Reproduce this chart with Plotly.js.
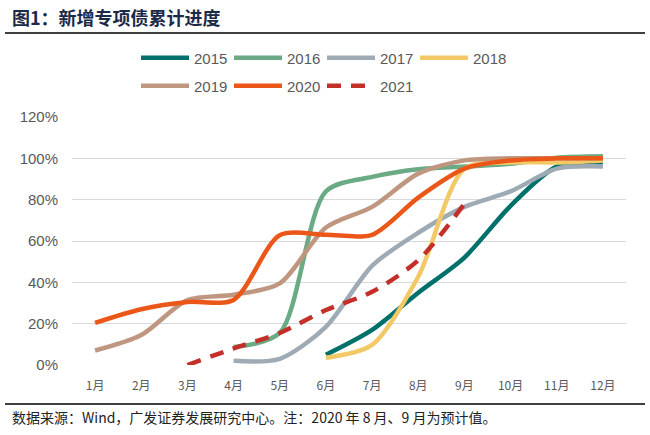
<!DOCTYPE html>
<html><head><meta charset="utf-8">
<script src="https://cdn.plot.ly/plotly-3.0.1.min.js"></script>
<style>html,body{margin:0;padding:0;background:#fff}#c{width:650px;height:435px}</style>
</head><body><div id="c"></div>
<script>
const months = ['1月','2月','3月','4月','5月','6月','7月','8月','9月','10月','11月','12月'];
const yTicks = [0,20,40,60,80,100,120];
const yTickText = ['0%','20%','40%','60%','80%','100%','120%'];
const s2015 = [null,null,null,null,null,5,17,35,52,77,96,98];
const s2016 = [null,null,null,8.7,15.5,84,91,94.7,96,97.4,100.3,101];
const s2017 = [null,null,null,2,3,18.5,48,64,76.5,84,95,96];
const s2018 = [null,null,null,null,null,3.5,9.7,42.7,95,98,98,99];
const s2019 = [7,14.5,31.4,34,39.5,66.5,76.5,92.6,99,100,100,100];
const s2020 = [20.4,27,30.5,31.5,62.8,63,63,81,95,99,100,100];
const s2021 = [null,null,0,8,15.5,26.6,35.4,50.7,78,null,null,null];
const names = ['2015','2016','2017','2018','2019','2020','2021'];
const series = [s2015,s2016,s2017,s2018,s2019,s2020,s2021];
const colors = ['#00706b','#6aaa84','#9eaab4','#f3c968','#bf9781','#ea5719','#c3302a'];

const traces = series.map((s,i)=>({
  x: months, y: s, name: names[i], type:'scatter', mode:'lines',
  line:{color:colors[i], width:4.5, shape:'spline', smoothing:0.8, dash: i===6 ? '14px,10px' : 'solid'},
  legend: i<4 ? 'legend' : 'legend2',
  hoverinfo:'skip'
}));

const legendBase = {orientation:'h', xanchor:'left', yanchor:'middle', font:{family:'Liberation Sans, Arial, sans-serif', size:15, color:'#595959'}, itemwidth:48, entrywidth:30, entrywidthmode:'pixels', bgcolor:'rgba(0,0,0,0)', tracegroupgap:0, itemclick:false};

const layout = {
  width:650, height:435,
  margin:{l:72, r:24, t:117, b:70},
  paper_bgcolor:'#fff', plot_bgcolor:'#fff',
  showlegend:true,
  legend: Object.assign({}, legendBase, {x:(136-72)/554, y:1+ (117-58)/248}),
  legend2: Object.assign({}, legendBase, {x:(136-72)/554, y:1+ (117-86)/248}),
  xaxis:{type:'category', range:[-0.5,11.5], showgrid:false, zeroline:false, showline:false, ticks:'outside', ticklen:10, tickcolor:'rgba(0,0,0,0)',
    tickfont:{family:'Noto Sans CJK SC, sans-serif', size:12, color:'#595959'}, fixedrange:true},
  yaxis:{range:[0,120], tickvals:yTicks, ticktext:yTickText, showgrid:true, gridcolor:'#d9d9d9', gridwidth:1,
    zeroline:false, showline:false, ticks:'outside', ticklen:10, tickcolor:'rgba(0,0,0,0)',
    tickfont:{family:'Liberation Sans, Arial, sans-serif', size:15, color:'#595959'}, fixedrange:true},
  annotations:[
    {xref:'paper', yref:'paper', x:(10-72)/554, y:1+(117-17)/248, xanchor:'left', yanchor:'middle', showarrow:false,
     text:'<b>图1：新增专项债累计进度</b>', font:{family:'Noto Sans CJK SC, sans-serif', size:18, color:'#1c2a4a'}},
    {xref:'paper', yref:'paper', x:(10-72)/554, y:-(417-365)/248, xanchor:'left', yanchor:'middle', showarrow:false,
     text:'数据来源：Wind，广发证券发展研究中心。注：2020 年 8 月、9 月为预计值。', font:{family:'Noto Sans CJK SC, sans-serif', size:14, color:'#222'}}
  ],
  shapes:[
    {type:'line', xref:'paper', yref:'paper', x0:(5-72)/554, x1:(645-72)/554, y0:1+(117-33)/248, y1:1+(117-33)/248, line:{color:'#000', width:1.5}},
    {type:'line', xref:'paper', yref:'paper', x0:(5-72)/554, x1:(645-72)/554, y0:-(404-365)/248, y1:-(404-365)/248, line:{color:'#000', width:1.5}}
  ]
};
Plotly.newPlot('c', traces, layout, {displayModeBar:false, staticPlot:true});
</script></body></html>
